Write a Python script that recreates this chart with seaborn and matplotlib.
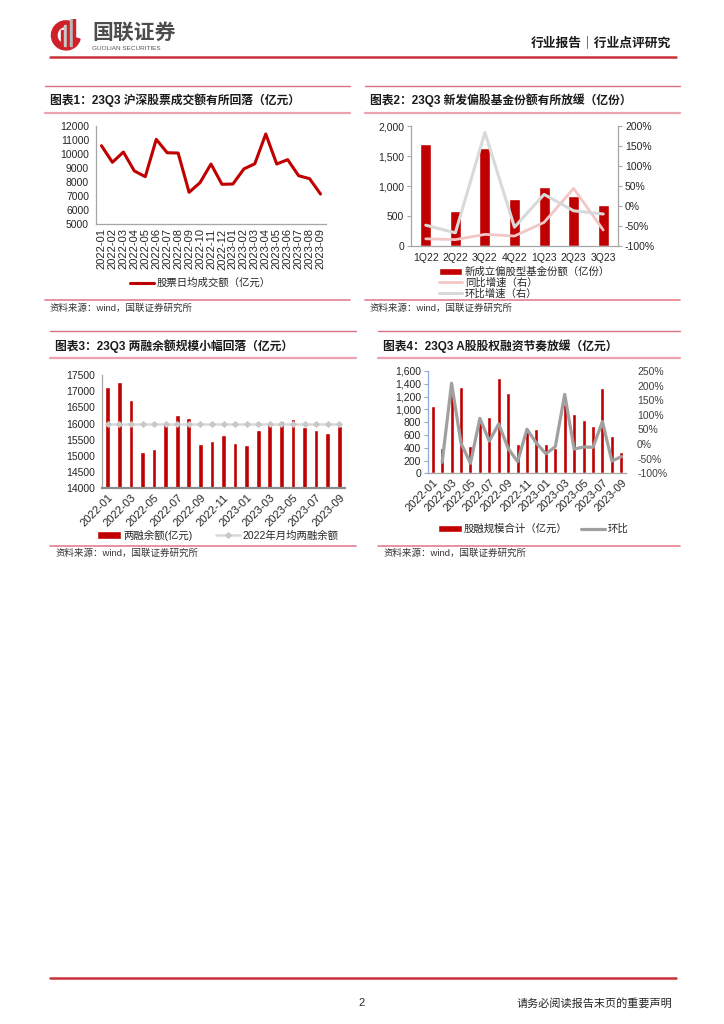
import numpy as np
import pandas as pd
import seaborn as sns
import matplotlib.pyplot as plt
from matplotlib.lines import Line2D
from matplotlib.patches import Wedge, Rectangle

# ---- data ----
months = ['2022-01', '2022-02', '2022-03', '2022-04', '2022-05', '2022-06', '2022-07',
          '2022-08', '2022-09', '2022-10', '2022-11', '2022-12', '2023-01', '2023-02',
          '2023-03', '2023-04', '2023-05', '2023-06', '2023-07', '2023-08', '2023-09']
turnover = [10580, 9400, 10130, 8790, 8380, 11030, 10080, 10060, 7270, 7960, 9280,
            7840, 7860, 8930, 9300, 11410, 9280, 9590, 8450, 8240, 7150]

quarters = ['1Q22', '2Q22', '3Q22', '4Q22', '1Q23', '2Q23', '3Q23']
fund_shares = [1695, 583, 1640, 778, 989, 833, 678]
fund_yoy = [-82, -84, -71, -75, -41, 44, -60]
fund_qoq = [-48, -67, 184, -53, 29, -12, -20]

margin_bal = [17140, 17270, 16730, 15110, 15200, 16040, 16260, 16160, 15360, 15450, 15640,
              15390, 15350, 15810, 16060, 16070, 16130, 15880, 15790, 15710, 15910]
margin_avg_2022 = 15980

equity_fin = [1053, 401, 1240, 1344, 427, 803, 875, 1485, 1251, 453, 684,
              688, 453, 401, 1085, 922, 839, 740, 1329, 578, 328]
equity_mom = [-62, 208, 3, -66, 88, 10, 69, -15, -60, 51,
              3, -33, -9, 170, -17, -10, -11, 77, -58, -43]   # from 2022-02

RED = '#C00000'
TXT = '#262626'
AX_GRAY = '#A6A6A6'

sns.set_style('white')
plt.rcParams['font.family'] = ['Liberation Sans', 'Noto Sans CJK SC', 'DejaVu Sans']
plt.rcParams['axes.unicode_minus'] = False

W, H = 724, 1024
fig = plt.figure(figsize=(W / 100, H / 100), dpi=100)


def add_ax(l, t, r, b):
    return fig.add_axes([l / W, 1 - b / H, (r - l) / W, (b - t) / H])


def ftext(x, y, s, **kw):
    fig.text(x / W, 1 - y / H, s, **kw)


def hline(x0, x1, y, color, lw):
    fig.add_artist(Line2D([x0 / W, x1 / W], [1 - y / H, 1 - y / H], color=color, lw=lw,
                          transform=fig.transFigure))


def kill_legend(ax):
    leg = ax.get_legend()
    if leg is not None:
        leg.remove()


def style_axes(ax, left_color=AX_GRAY):
    for s in ['top', 'right']:
        ax.spines[s].set_visible(False)
    ax.spines['left'].set_color(left_color)
    ax.spines['bottom'].set_color(AX_GRAY)
    ax.spines['left'].set_linewidth(0.9)
    ax.spines['bottom'].set_linewidth(0.9)
    ax.tick_params(axis='y', which='major', direction='out', length=3, width=0.8,
                   color=left_color, labelsize=7.5, labelcolor=TXT, pad=2)
    ax.tick_params(axis='x', which='major', length=0, labelsize=7.5, labelcolor=TXT, pad=3)
    ax.tick_params(axis='x', which='minor', direction='out', length=3, width=0.8, color=AX_GRAY)
    ax.set_xlabel('')
    ax.set_ylabel('')


def section(x0, x1, y_top, y_title, y_under, title, y_src_line, y_src):
    hline(x0, x1, y_top, '#D9707F', 1.0)
    ftext(x0 + 5, y_title, title, fontsize=8.5, weight='bold', va='center', color='#1a1a1a')
    hline(x0, x1, y_under, '#EBA3AE', 1.6)
    hline(x0, x1, y_src_line, '#E47F8E', 1.2)
    ftext(x0 + 5, y_src, '资料来源：wind，国联证券研究所', fontsize=6.8, va='center',
          color='#333333')


# ---- page header ----
logo = add_ax(50, 17, 82, 53)
logo.set_xlim(-1.1, 1.1)
logo.set_ylim(-1.1, 1.15)
logo.set_aspect('equal')
logo.axis('off')
logo.add_patch(Wedge((0, 0), 1.0, 75, 345, width=0.38, color='#D0202A'))
for xb, hb, cb in [(-0.35, 1.15, '#D0202A'), (-0.12, 1.45, '#C8C8C8'), (0.08, 1.7, '#D0202A'),
                   (0.28, 2.0, '#B8B8B8'), (0.46, 2.2, '#D0202A')]:
    logo.add_patch(Rectangle((xb, -0.75), 0.13, hb, color=cb))
ftext(92, 33, '国联证券', fontsize=15, weight='bold', va='center', color='#4D4D4D')
ftext(92, 48, 'GUOLIAN SECURITIES', fontsize=4.6, va='center', color='#555555')
ftext(671, 43, '行业报告｜行业点评研究', fontsize=9.2, weight='bold', va='center', ha='right',
      color='#1a1a1a')
hline(50, 676, 57, '#C8303A', 1.8)

# ---- footer ----
hline(50, 676, 978, '#C8303A', 1.8)
ftext(362, 1003, '2', fontsize=8, va='center', ha='center', color=TXT)
ftext(672, 1003, '请务必阅读报告末页的重要声明', fontsize=8, va='center', ha='right', color=TXT)

# ---- chart 1 ----
section(45, 350, 86, 100, 113, '图表1：23Q3 沪深股票成交额有所回落（亿元）', 300, 308)
ax1 = add_ax(96, 125.7, 326, 224.3)
x1 = np.arange(len(months))
sns.lineplot(x=x1, y=turnover, color=RED, lw=2.2, ax=ax1, label='股票日均成交额（亿元）')
kill_legend(ax1)
ax1.set_xlim(-0.5, len(months) - 0.5)
ax1.set_ylim(5000, 12000)
ax1.set_yticks(range(5000, 12001, 1000))
ax1.set_xticks(x1)
ax1.set_xticklabels(months, rotation=90)
ax1.set_xticks(np.arange(len(months) + 1) - 0.5, minor=True)
style_axes(ax1)
ax1.tick_params(axis='x', which='major', labelsize=8)
h, l = ax1.get_legend_handles_labels()
fig.legend(h, l, loc='center left', bbox_to_anchor=(130 / W, 1 - 283 / H), frameon=False,
           fontsize=7.5, handlelength=2.3, handletextpad=0.3, borderpad=0, borderaxespad=0)

# ---- chart 2 ----
section(365, 680, 86, 100, 113, '图表2：23Q3 新发偏股基金份额有所放缓（亿份）', 300, 308)
ax2 = add_ax(411, 126, 618, 246)
sns.barplot(x=quarters, y=fund_shares, color=RED, width=0.37, saturation=1, ax=ax2,
            label='新成立偏股型基金份额（亿份）')
kill_legend(ax2)
ax2.set_xlim(-0.5, len(quarters) - 0.5)
ax2.set_ylim(0, 2000)
ax2.set_yticks(range(0, 2001, 500))
ax2.set_yticklabels([f'{v:,}' for v in range(0, 2001, 500)])
ax2.set_xticks(np.arange(len(quarters) + 1) - 0.5, minor=True)
style_axes(ax2)
ax2.tick_params(axis='x', which='major', pad=5)
ax2r = ax2.twinx()
x2 = np.arange(len(quarters))
sns.lineplot(x=x2, y=fund_yoy, color='#F3C6C6', lw=2.0, ax=ax2r, label='同比增速（右）')
sns.lineplot(x=x2, y=fund_qoq, color='#D9D9D9', lw=2.2, ax=ax2r, label='环比增速（右）')
kill_legend(ax2r)
ax2r.set_ylim(-100, 200)
ax2r.set_yticks(range(-100, 201, 50))
ax2r.set_yticklabels([f'{v}%' for v in range(-100, 201, 50)])
for s in ['top', 'left', 'bottom']:
    ax2r.spines[s].set_visible(False)
ax2r.spines['right'].set_color(AX_GRAY)
ax2r.spines['right'].set_linewidth(0.9)
ax2r.tick_params(axis='y', direction='out', length=3, width=0.8, color=AX_GRAY,
                 labelsize=7.5, labelcolor=TXT, pad=2)
ax2r.set_ylabel('')
h1, l1 = ax2.get_legend_handles_labels()
h2, l2 = ax2r.get_legend_handles_labels()
fig.legend(h1 + h2, l1 + l2, loc='upper left', bbox_to_anchor=(439 / W, 1 - 267 / H),
           frameon=False, fontsize=7.5, handlelength=2.2, handletextpad=0.3, borderpad=0,
           borderaxespad=0, labelspacing=0.05)

# ---- chart 3 ----
section(50, 356, 331, 346, 358, '图表3：23Q3 两融余额规模小幅回落（亿元）', 546, 553)
ax3 = add_ax(102, 375, 345, 488.3)
sns.barplot(x=months, y=margin_bal, color=RED, width=0.4, saturation=1, ax=ax3,
            label='两融余额(亿元)')
x3 = np.arange(len(months))
sns.lineplot(x=x3, y=[margin_avg_2022] * len(months), color='#D9D9D9', lw=1.8, marker='D',
             markersize=3, markeredgecolor='#C8C8C8', markerfacecolor='#C8C8C8', ax=ax3,
             label='2022年月均两融余额')
kill_legend(ax3)
ax3.set_xlim(-0.5, len(months) - 0.5)
ax3.set_ylim(14000, 17500)
ax3.set_yticks(range(14000, 17501, 500))
ax3.set_xticks(x3[::2])
ax3.set_xticklabels(months[::2], rotation=45, ha='right', rotation_mode='anchor')
ax3.set_xticks(np.arange(1, len(months) - 1, 2) + 0.5, minor=True)
style_axes(ax3)
ax3.spines['bottom'].set_color('#8C8C8C')
ax3.spines['bottom'].set_linewidth(1.6)
ax3.tick_params(axis='x', which='major', labelsize=8)
h, l = ax3.get_legend_handles_labels()
order = sorted(range(len(l)), key=lambda i: 0 if l[i].startswith('两融') else 1)
fig.legend([h[i] for i in order], [l[i] for i in order], loc='center left',
           bbox_to_anchor=(97 / W, 1 - 535 / H), frameon=False,
           fontsize=7.5, handlelength=2.3, handletextpad=0.2, borderpad=0, borderaxespad=0,
           ncol=2, columnspacing=2.3)

# ---- chart 4 ----
section(378, 680, 331, 346, 358, '图表4：23Q3 A股股权融资节奏放缓（亿元）', 546, 553)
ax4 = add_ax(428, 371, 626, 473.3)
sns.barplot(x=months, y=equity_fin, color=RED, width=0.42, saturation=1, ax=ax4,
            label='股融规模合计（亿元）')
kill_legend(ax4)
ax4.set_xlim(-0.5, len(months) - 0.5)
ax4.set_ylim(0, 1600)
ax4.set_yticks(range(0, 1601, 200))
ax4.set_yticklabels([f'{v:,}' for v in range(0, 1601, 200)])
x4 = np.arange(len(months))
ax4.set_xticks(x4[::2])
ax4.set_xticklabels(months[::2], rotation=45, ha='right', rotation_mode='anchor')
ax4.set_xticks(np.arange(len(months) + 1) - 0.5, minor=True)
style_axes(ax4, left_color='#8FAADC')
ax4.tick_params(axis='x', which='major', labelsize=8)
ax4r = ax4.twinx()
sns.lineplot(x=x4[1:], y=equity_mom, color='#A0A0A0', lw=2.3, ax=ax4r, label='环比')
kill_legend(ax4r)
ax4r.set_ylim(-100, 250)
ax4r.set_yticks(range(-100, 251, 50))
ax4r.set_yticklabels([f'{v}%' for v in range(-100, 251, 50)])
for s in ['top', 'left', 'bottom', 'right']:
    ax4r.spines[s].set_visible(False)
ax4r.tick_params(axis='y', length=0, labelsize=7.5, labelcolor='#404040', pad=8)
ax4r.set_ylabel('')
h1, l1 = ax4.get_legend_handles_labels()
h2, l2 = ax4r.get_legend_handles_labels()
fig.legend(h1 + h2, l1 + l2, loc='center left', bbox_to_anchor=(438 / W, 1 - 529 / H),
           frameon=False, fontsize=7.5, handlelength=2.3, handletextpad=0.2, borderpad=0,
           borderaxespad=0, ncol=2, columnspacing=1.3)

fig.savefig('out.png', dpi=100)
